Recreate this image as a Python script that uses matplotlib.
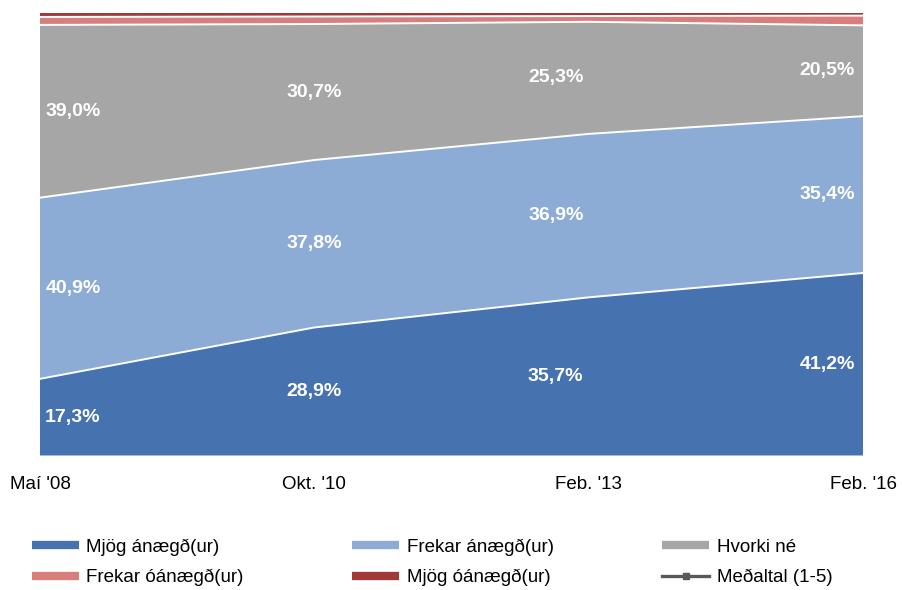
import matplotlib
matplotlib.use("Agg")
import matplotlib.pyplot as plt
from matplotlib.lines import Line2D
import numpy as np

plt.rcParams['font.family'] = ['Liberation Sans', 'DejaVu Sans']

categories = ["Maí '08", "Okt. '10", "Feb. '13", "Feb. '16"]
mjog_anaegd = [17.3, 28.9, 35.7, 41.2]
frekar_anaegd = [40.9, 37.8, 36.9, 35.4]
hvorki_ne = [39.0, 30.7, 25.3, 20.5]
frekar_oanaegd = [1.8, 1.7, 1.3, 2.2]
mjog_oanaegd = [1.0, 0.9, 0.8, 0.7]

series_names = ["Mjög ánægð(ur)", "Frekar ánægð(ur)", "Hvorki né",
                "Frekar óánægð(ur)", "Mjög óánægð(ur)"]
colors = ["#4672B0", "#8CACD5", "#A6A6A6", "#D77F7D", "#A0393A"]
labelled = [True, True, True, False, False]

data = np.array([mjog_anaegd, frekar_anaegd, hvorki_ne, frekar_oanaegd, mjog_oanaegd])
x = np.arange(len(categories))

fig = plt.figure(figsize=(9.03, 5.90), dpi=100)
ax = fig.add_axes([40/903, 1 - 455.5/590, 823/903, 443/590])

ax.stackplot(x, data, colors=colors, linewidth=0)
cum = np.cumsum(data, axis=0)
for i in range(len(data) - 1):
    ax.plot(x, cum[i], color="white", lw=1.4, solid_capstyle="butt")

label_dx = [0.12, 0.0, -0.12, -0.13]
for s in range(len(data)):
    if not labelled[s]:
        continue
    for j in range(len(x)):
        mid = cum[s][j] - data[s][j] / 2
        ax.text(x[j] + label_dx[j], mid, f"{data[s][j]:.1f}%".replace(".", ","),
                ha="center", va="center", color="white", fontsize=14,
                fontweight="bold")

ax.set_xlim(0, 3)
ax.set_ylim(0, 100)
ax.set_yticks([])
ax.set_xticks(x)
ax.set_xticklabels(categories, fontsize=13.5)
ax.tick_params(axis="x", length=0, pad=15)
for sp in ax.spines.values():
    sp.set_visible(False)

handles = [Line2D([], [], color=c, lw=6, solid_capstyle="butt") for c in colors]
handles.append(Line2D([], [], color="#595959", lw=2.4, marker="s", markersize=4))
names = series_names + ["Meðaltal (1-5)"]
order = [0, 3, 1, 4, 2, 5]
fig.legend([handles[i] for i in order], [names[i] for i in order],
           loc="lower left", bbox_to_anchor=(28/903, 0.0, 808/903, 66/590),
           mode="expand", ncol=3, frameon=False, fontsize=13.5,
           handlelength=2.5, handletextpad=0.4, labelspacing=0.7,
           borderaxespad=0.0, borderpad=0.2)

fig.savefig("out.png", dpi=100)
